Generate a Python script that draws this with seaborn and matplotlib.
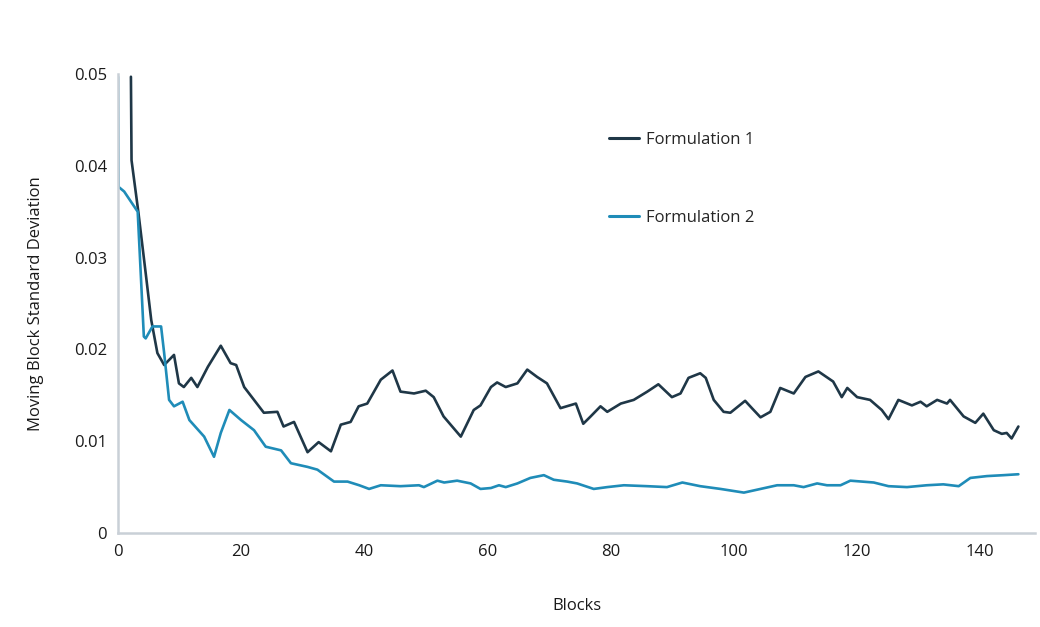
import matplotlib
matplotlib.use("Agg")
import matplotlib.pyplot as plt
import seaborn as sns
import pandas as pd
from matplotlib.ticker import FuncFormatter

# Data
f1_blocks = [2.1, 2.2, 3.3, 4.5, 5.4, 6.4, 7.5, 9.1, 9.9, 10.7, 11.9, 12.9, 14.6, 16.7, 18.3, 19.2,
             20.5, 22.1, 23.7, 25.9, 26.9, 28.6, 30.8, 32.6, 34.6, 36.2, 37.8, 39.1, 40.5, 42.7,
             44.6, 45.9, 48.1, 50.0, 51.3, 52.9, 55.7, 57.8, 58.9, 60.6, 61.6, 63.0, 64.9, 66.5,
             68.1, 69.7, 71.9, 74.4, 75.6, 76.8, 78.4, 79.5, 81.7, 83.8, 86.0, 87.8, 90.0, 91.4,
             92.7, 94.6, 95.5, 96.8, 98.4, 99.5, 101.9, 103.0, 104.4, 106.0, 107.6, 109.8, 111.7,
             113.8, 116.2, 117.6, 118.5, 120.1, 122.2, 124.1, 125.2, 126.8, 129.0, 130.4, 131.4,
             133.1, 134.7, 135.2, 137.4, 139.3, 140.6, 142.3, 143.6, 144.4, 145.2, 146.3]
f1_values = [0.0497, 0.0406, 0.0350, 0.0283, 0.0232, 0.0196, 0.0183, 0.0194, 0.0163, 0.0159, 0.0169,
             0.0159, 0.0181, 0.0204, 0.0185, 0.0183, 0.0159, 0.0145, 0.0131, 0.0132, 0.0116, 0.0121,
             0.0088, 0.0099, 0.0089, 0.0118, 0.0121, 0.0138, 0.0141, 0.0167, 0.0177, 0.0154, 0.0152,
             0.0155, 0.0148, 0.0127, 0.0105, 0.0134, 0.0139, 0.0159, 0.0164, 0.0159, 0.0163, 0.0178,
             0.0170, 0.0163, 0.0136, 0.0141, 0.0119, 0.0127, 0.0138, 0.0132, 0.0141, 0.0145, 0.0154,
             0.0162, 0.0148, 0.0152, 0.0169, 0.0174, 0.0169, 0.0145, 0.0132, 0.0131, 0.0144, 0.0136,
             0.0126, 0.0132, 0.0158, 0.0152, 0.0170, 0.0176, 0.0165, 0.0148, 0.0158, 0.0148, 0.0145,
             0.0134, 0.0124, 0.0145, 0.0139, 0.0143, 0.0138, 0.0145, 0.0141, 0.0145, 0.0127, 0.0120,
             0.0130, 0.0112, 0.0108, 0.0109, 0.0103, 0.0116]

f2_blocks = [0.0, 0.1, 1.0, 3.2, 4.2, 4.5, 5.6, 7.0, 7.5, 8.3, 9.1, 10.5, 11.6, 14.0, 15.6, 16.7,
             18.1, 20.0, 22.1, 24.0, 26.5, 28.1, 30.8, 32.4, 35.1, 37.3, 39.2, 40.8, 42.7, 45.9,
             48.9, 49.7, 51.9, 53.0, 55.1, 57.3, 58.9, 60.6, 61.9, 63.0, 64.9, 67.0, 69.2, 70.8,
             73.0, 74.6, 77.3, 79.5, 82.2, 86.0, 89.2, 91.7, 94.6, 97.9, 101.7, 104.4, 107.1,
             109.8, 111.4, 113.6, 115.2, 117.4, 119.0, 122.8, 125.2, 128.2, 131.4, 134.1, 136.6,
             138.5, 141.2, 143.9, 146.3]
f2_values = [0.0497, 0.0377, 0.0372, 0.0350, 0.0214, 0.0212, 0.0225, 0.0225, 0.0196, 0.0145, 0.0138,
             0.0143, 0.0123, 0.0105, 0.0083, 0.0109, 0.0134, 0.0123, 0.0112, 0.0094, 0.0090, 0.0076,
             0.0072, 0.0069, 0.0056, 0.0056, 0.0052, 0.0048, 0.0052, 0.0051, 0.0052, 0.0050, 0.0057,
             0.0055, 0.0057, 0.0054, 0.0048, 0.0049, 0.0052, 0.0050, 0.0054, 0.0060, 0.0063, 0.0058,
             0.0056, 0.0054, 0.0048, 0.0050, 0.0052, 0.0051, 0.0050, 0.0055, 0.0051, 0.0048, 0.0044,
             0.0048, 0.0052, 0.0052, 0.0050, 0.0054, 0.0052, 0.0052, 0.0057, 0.0055, 0.0051, 0.0050,
             0.0052, 0.0053, 0.0051, 0.0060, 0.0062, 0.0063, 0.0064]

series_names = ["Formulation 1", "Formulation 2"]
x_ticks = [0, 20, 40, 60, 80, 100, 120, 140]
y_ticks = [0, 0.01, 0.02, 0.03, 0.04, 0.05]

df = pd.concat([
    pd.DataFrame({"Blocks": f1_blocks, "value": f1_values, "series": series_names[0]}),
    pd.DataFrame({"Blocks": f2_blocks, "value": f2_values, "series": series_names[1]}),
], ignore_index=True)

sns.set_style("white")
plt.rcParams["font.family"] = ["Open Sans", "DejaVu Sans"]

fig = plt.figure(figsize=(10.4, 6.27), dpi=100)
ax = fig.add_axes([118 / 1040, 1 - 533 / 627, (1035 - 118) / 1040, (533 - 74) / 627])

palette = {series_names[0]: "#1f3747", series_names[1]: "#1f8cb8"}
sns.lineplot(data=df, x="Blocks", y="value", hue="series", palette=palette,
             linewidth=1.9, ax=ax, sort=False, estimator=None)

ax.set_xlim(0, 149)
ax.set_ylim(0, 0.05)
ax.set_xticks(x_ticks)
ax.set_yticks(y_ticks)
ax.yaxis.set_major_formatter(FuncFormatter(lambda v, p: "0" if abs(v) < 1e-12 else f"{v:.2f}"))
ax.tick_params(axis="both", length=0, labelsize=12, colors="#1a1a1a", pad=8)

for side in ["top", "right"]:
    ax.spines[side].set_visible(False)
for side in ["left", "bottom"]:
    ax.spines[side].set_color("#c9d0d7")
    ax.spines[side].set_linewidth(1.8)

ax.set_xlabel("Blocks", fontsize=12, color="#1a1a1a", labelpad=27)
ax.set_ylabel("Moving Block Standard Deviation", fontsize=12, color="#1a1a1a", labelpad=21)

leg = ax.legend(loc="upper left", bbox_to_anchor=(601 / 1040, 1 - 124 / 627),
                bbox_transform=fig.transFigure, frameon=False, fontsize=12,
                labelspacing=3.7, handlelength=1.8, handletextpad=0.4, borderpad=0)
for line in leg.get_lines():
    line.set_linewidth(2.2)

fig.savefig("out.png", dpi=100)
